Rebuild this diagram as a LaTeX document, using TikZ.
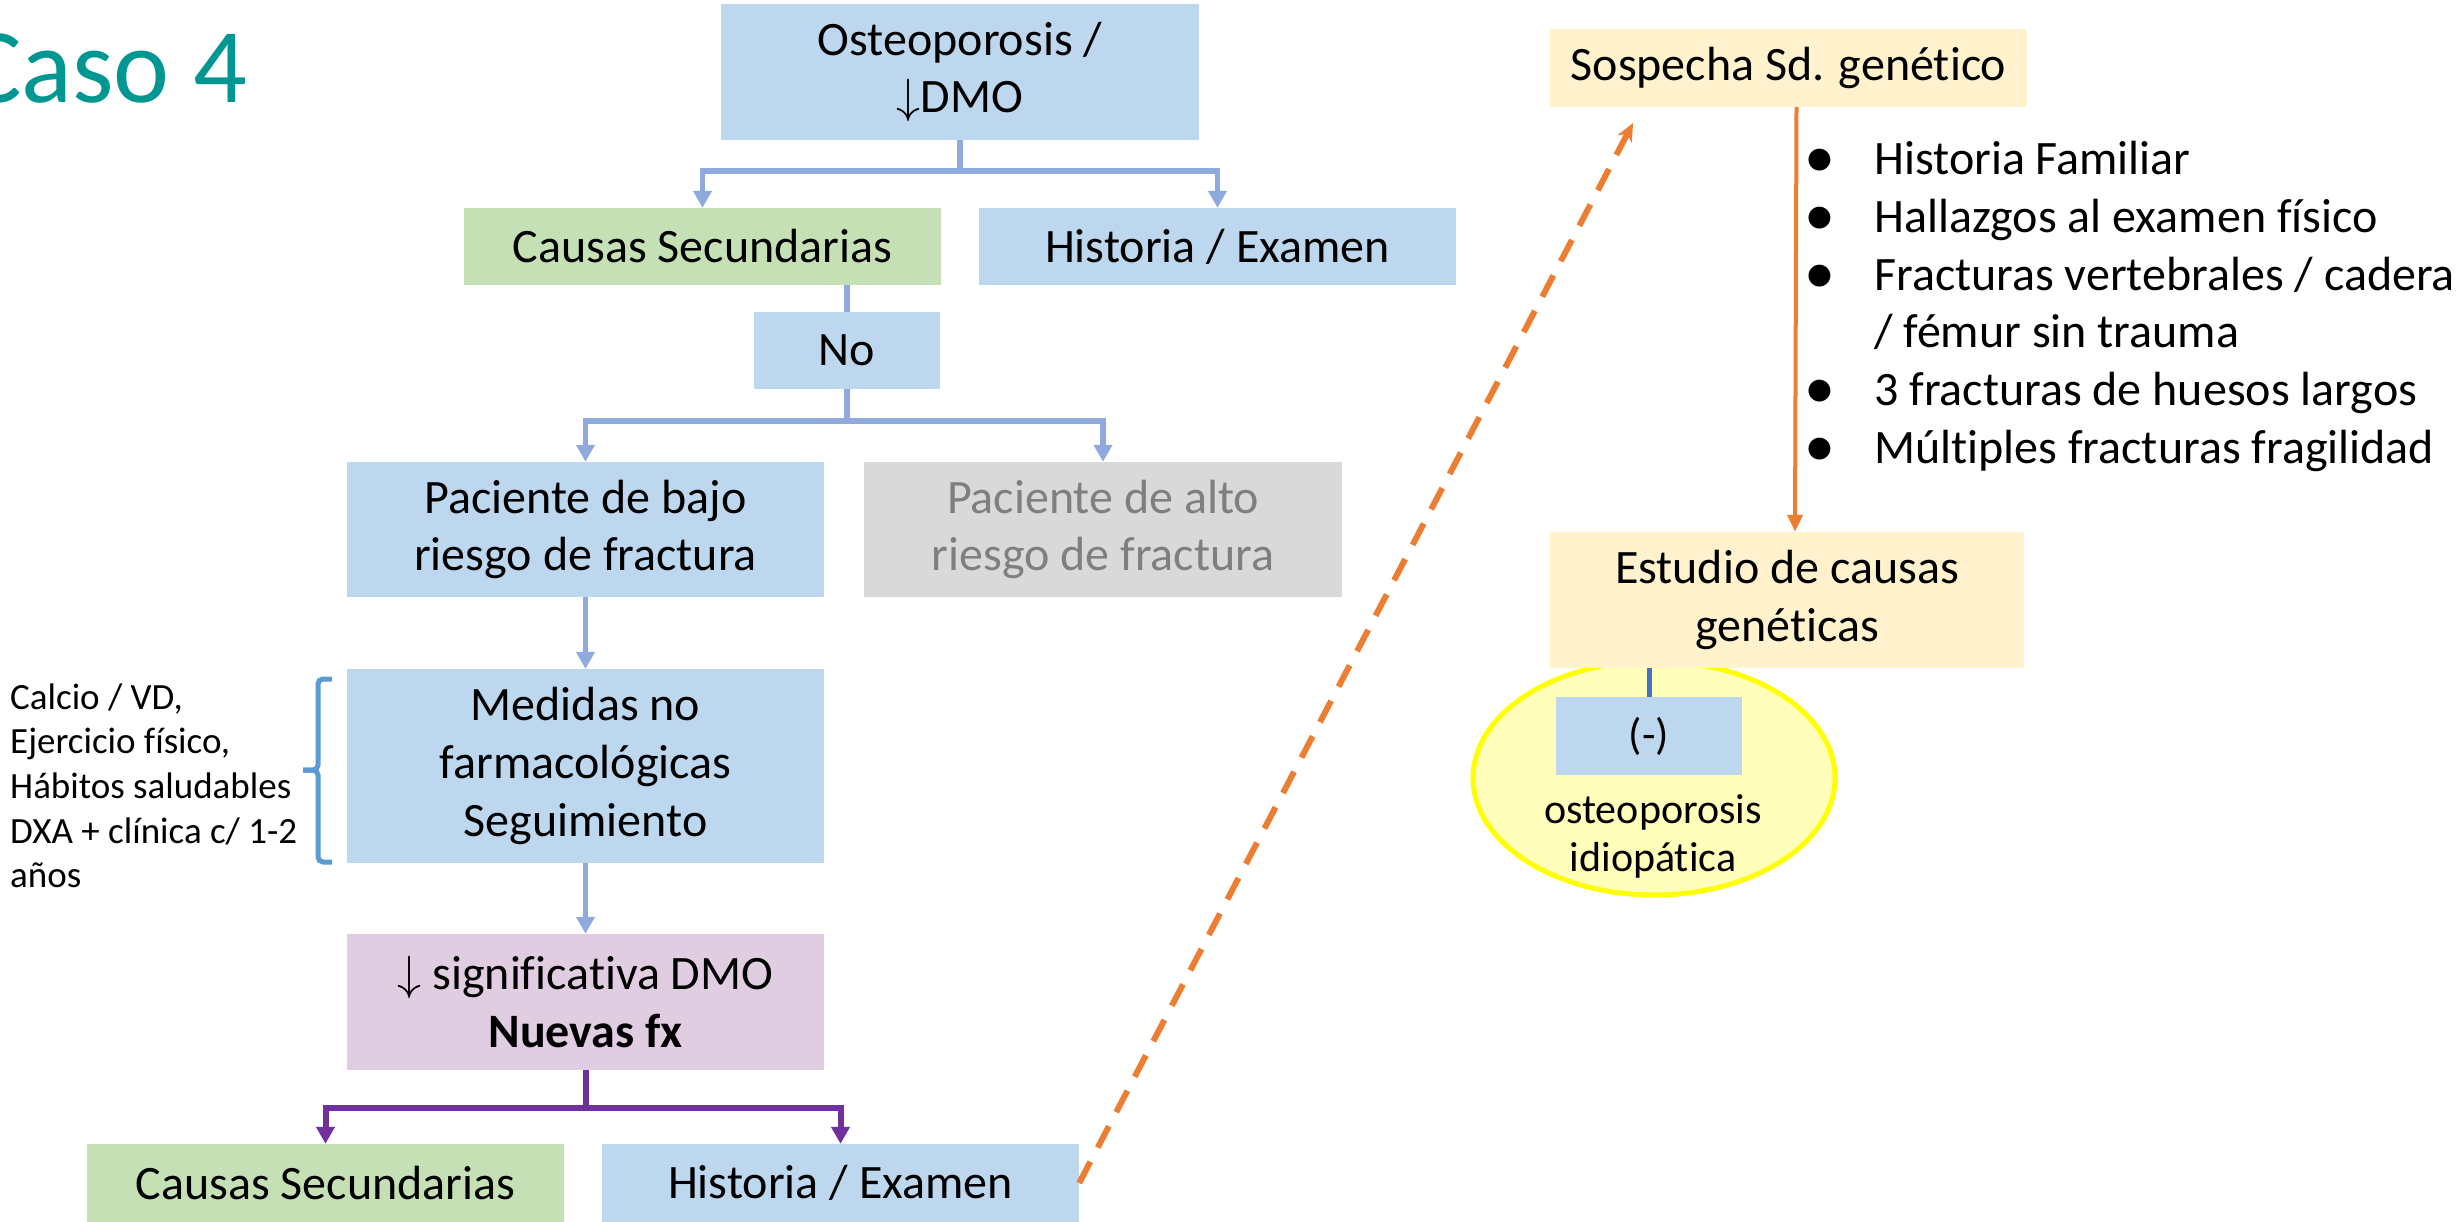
\RequirePackage{fix-cm}
\documentclass[tikz,border=0pt]{standalone}
\usepackage{fontspec}
\setmainfont{Carlito}[Ligatures=NoCommon]
\usetikzlibrary{arrows.meta,shapes.geometric,calc}

\definecolor{boxblue}{RGB}{189,215,238}
\definecolor{boxgreen}{RGB}{197,224,180}
\definecolor{boxgray}{RGB}{217,217,217}
\definecolor{boxpink}{RGB}{225,205,226}
\definecolor{boxcream}{RGB}{255,242,204}
\definecolor{lineblue}{RGB}{143,170,220}
\definecolor{linepurple}{RGB}{112,48,160}
\definecolor{lineorange}{RGB}{237,125,49}
\definecolor{bracketblue}{RGB}{91,155,213}
\definecolor{darkblue}{RGB}{68,114,196}
\definecolor{tealtitle}{RGB}{0,150,145}
\definecolor{ellfill}{RGB}{255,255,187}
\definecolor{ellborder}{RGB}{255,255,0}
\definecolor{graytext}{RGB}{127,127,127}

\begin{document}
\begin{tikzpicture}[x=1pt,y=-1pt,
  box/.style={draw=none,inner sep=0pt,align=center,
    font=\fontsize{48}{57.6}\selectfont},
  sidetext/.style={inner sep=0pt,anchor=base west,
    font=\fontsize{37}{44.5}\selectfont},
  listtext/.style={inner sep=0pt,anchor=base west,
    font=\fontsize{48}{57.6}\selectfont},
  bulletmark/.style={inner sep=0pt,anchor=base,
    font=\fontsize{62}{70}\selectfont},
  bline/.style={draw=lineblue,line width=5.5pt},
  barrow/.style={bline,-{Triangle[length=17pt,width=18pt]}},
  pline/.style={draw=linepurple,line width=6pt},
  parrow/.style={pline,-{Triangle[length=17pt,width=18pt]}},
  oarrow/.style={draw=lineorange,line width=4pt,-{Triangle[length=17pt,width=15pt]}},
  odash/.style={draw=lineorange,line width=6pt,dash pattern=on 24pt off 16pt,
    -{Stealth[length=18pt,width=16pt]}},
]
\useasboundingbox (0,0) rectangle (2458,1222);

% title
\node[inner sep=0pt,anchor=base west,text=tealtitle,
  font=\fontsize{106}{120}\selectfont] (title) at (-35,103) {Caso 4};

% left column boxes
\node[box,fill=boxblue,minimum width=478pt,minimum height=136pt] (o) at (960,72)
  {Osteoporosis /\\$\downarrow$DMO};
\node[box,fill=boxgreen,minimum width=477pt,minimum height=77pt] (c1) at (702.5,246.5)
  {Causas Secundarias};
\node[box,fill=boxblue,minimum width=477pt,minimum height=77pt] (h1) at (1217.5,246.5)
  {Historia / Examen};
\node[box,fill=boxblue,minimum width=186pt,minimum height=77pt] (no) at (847,350.5)
  {No};
\node[box,fill=boxblue,minimum width=477pt,minimum height=135pt] (pb) at (585.5,529.5)
  {Paciente de bajo\\riesgo de fractura};
\node[box,fill=boxgray,text=graytext,minimum width=478pt,minimum height=135pt] (pa) at (1103,529.5)
  {Paciente de alto\\riesgo de fractura};
\node[box,fill=boxblue,minimum width=477pt,minimum height=194pt] (med) at (585.5,766)
  {Medidas no\\farmacológicas\\Seguimiento};
\node[box,fill=boxpink,minimum width=477pt,minimum height=136pt] (sig) at (585.5,1002)
  {$\downarrow$ significativa DMO\\\textbf{Nuevas fx}};
\node[box,fill=boxgreen,minimum width=477pt,minimum height=78pt] (c2) at (325.5,1183)
  {Causas Secundarias};
\node[box,fill=boxblue,minimum width=477pt,minimum height=78pt] (h2) at (840.5,1183)
  {Historia / Examen};

% side text and bracket
\node[sidetext] (l1) at (10,709) {Calcio / VD,};
\node[sidetext] (l2) at (10,753.5) {Ejercicio físico,};
\node[sidetext] (l3) at (10,798) {Hábitos saludables};
\node[sidetext] (l4) at (10,843) {DXA + clínica c/ 1-2};
\node[sidetext] (l5) at (10,887) {años};
\draw[bracketblue,line width=5pt,rounded corners=5pt]
  (332,679) -- (318,679) -- (318,770) -- (303,770);
\draw[bracketblue,line width=5pt,rounded corners=5pt]
  (303,770) -- (318,770) -- (318,862) -- (332,862);

% connectors, left part
\draw[bline] (o.south) -- (o.south |- 0,171) coordinate (j1);
\draw[barrow] (j1) -| (c1.north);
\draw[barrow] (j1) -| (h1.north);
\draw[bline] (c1.south -| no.north) -- (no.north);
\draw[bline] (no.south) -- (no.south |- 0,421) coordinate (j2);
\draw[barrow] (j2) -| (pb.north);
\draw[barrow] (j2) -| (pa.north);
\draw[barrow] (pb.south) -- (med.north);
\draw[barrow] (med.south) -- (sig.north);
\draw[pline] (sig.south) -- (sig.south |- 0,1108) coordinate (j3);
\draw[parrow] (j3) -| (c2.north);
\draw[parrow] (j3) -| (h2.north);

% right part
\node[box,fill=boxcream,minimum width=477pt,minimum height=78pt] (s) at (1788.5,68)
  {Sospecha Sd. genético};
\node[ellipse,draw=ellborder,fill=ellfill,line width=5pt,inner sep=0pt,
  minimum width=362pt,minimum height=234pt] (ell) at (1654,778) {};
\node[box,fill=boxcream,minimum width=474pt,minimum height=136pt] (e) at (1787,600)
  {Estudio de causas\\genéticas};
\node[box,fill=boxblue,minimum width=186pt,minimum height=78pt,
  font=\fontsize{44}{52}\selectfont] (neg) at (1649,736) {(-)};
\node[inner sep=0pt,align=center,font=\fontsize{42}{48}\selectfont] (idio) at (1653,836)
  {osteoporosis\\idiopática};
\draw[darkblue,line width=5pt] (e.south -| neg.north) -- (neg.north);

\draw[oarrow] ([xshift=8pt]s.south) -- ([xshift=8pt]e.north);

\node[bulletmark] (b1) at (1820,178) {•};
\node[listtext] (t1) at (1874,175) {Historia Familiar};
\node[bulletmark] (b2) at (1820,236) {•};
\node[listtext] (t2) at (1874,233) {Hallazgos al examen físico};
\node[bulletmark] (b3) at (1820,293.5) {•};
\node[listtext] (t3) at (1874,290.5) {Fracturas vertebrales / cadera};
\node[listtext] (t4) at (1874,348) {/ fémur sin trauma};
\node[bulletmark] (b5) at (1820,408.5) {•};
\node[listtext] (t5) at (1874,405.5) {3 fracturas de huesos largos};
\node[bulletmark] (b6) at (1820,466) {•};
\node[listtext] (t6) at (1874,463) {Múltiples fracturas fragilidad};

% dashed link
\coordinate (dtip) at (1633,123);
\draw[odash] (h2.east) -- (dtip);
\end{tikzpicture}
\end{document}
